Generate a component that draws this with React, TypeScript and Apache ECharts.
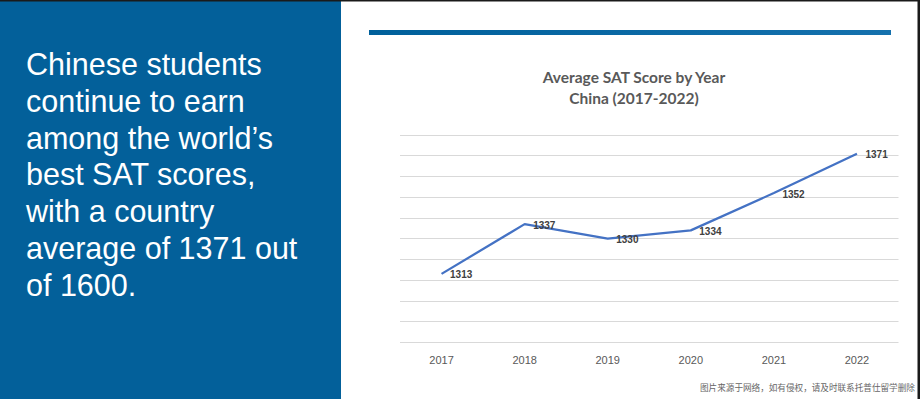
import React, { useEffect, useRef } from "react";
import * as echarts from "echarts";

const years = ["2017", "2018", "2019", "2020", "2021", "2022"];
const scores = [1313, 1337, 1330, 1334, 1352, 1371];
const titleLines = ["Average SAT Score by Year", "China (2017-2022)"];
const panelLines = [
  "Chinese students",
  "continue to earn",
  "among the world\u2019s",
  "best SAT scores,",
  "with a country",
  "average of 1371 out",
  "of 1600.",
];
const watermark = "图片来源于网络，如有侵权，请及时联系托普仕留学删除";

export default function App() {
  const ref = useRef<HTMLDivElement>(null);
  useEffect(() => {
    document.body.style.margin = "0";
    const chart = echarts.init(ref.current!, null, { renderer: "svg" });
    chart.setOption({
      animation: false,
      backgroundColor: "#ffffff",
      grid: { left: 400, right: 21.5, top: 135, bottom: 56.7 },
      xAxis: {
        type: "category",
        data: years,
        boundaryGap: true,
        axisLine: { show: false },
        axisTick: { show: false },
        axisLabel: {
          color: "#595959",
          fontSize: 11,
          fontFamily: "Liberation Sans",
          margin: 12,
        },
      },
      yAxis: {
        type: "value",
        min: 1280,
        max: 1380,
        interval: 10,
        axisLabel: { show: false },
        axisLine: { show: false },
        axisTick: { show: false },
        splitLine: { lineStyle: { color: "#d9d9d9", width: 1 } },
      },
      series: [
        {
          type: "line",
          data: scores,
          showSymbol: true,
          symbol: "circle",
          symbolSize: 1,
          itemStyle: { color: "rgba(68,114,196,0)" },
          lineStyle: { color: "#4472c4", width: 2.25 },
          label: {
            show: true,
            position: "right",
            distance: 8,
            offset: [0, 1],
            color: "#404040",
            fontSize: 10,
            fontWeight: "bold",
            fontFamily: "Liberation Sans",
          },
        },
      ],
      graphic: [
        {
          type: "rect",
          shape: { x: 0, y: 0, width: 341, height: 399 },
          style: { fill: "#03609a" },
        },
        {
          type: "rect",
          shape: { x: 0, y: 0, width: 920, height: 1.5 },
          style: { fill: "#1a1a1a" },
        },
        {
          type: "rect",
          shape: { x: 917.5, y: 0, width: 2.5, height: 399 },
          style: { fill: "#1a1a1a" },
        },
        {
          type: "rect",
          shape: { x: 369, y: 30, width: 522, height: 5 },
          style: {
            fill: new echarts.graphic.LinearGradient(0, 0, 1, 0, [
              { offset: 0, color: "#00609b" },
              { offset: 1, color: "#1571ad" },
            ]),
          },
        },
        {
          type: "text",
          x: 26,
          y: 45.5,
          style: {
            text: panelLines.join("\n"),
            fill: "#ffffff",
            font: '30.5px "Liberation Sans"',
            lineHeight: 36.8,
            verticalAlign: "top",
          },
        },
        {
          type: "text",
          x: 634,
          y: 77,
          style: {
            text: titleLines[0],
            fill: "#595959",
            font: 'bold 15.5px "Lato"',
            align: "center",
            verticalAlign: "middle",
          },
        },
        {
          type: "text",
          x: 634,
          y: 98,
          style: {
            text: titleLines[1],
            fill: "#595959",
            font: 'bold 15.5px "Lato"',
            align: "center",
            verticalAlign: "middle",
          },
        },
        {
          type: "text",
          x: 700,
          y: 387,
          style: {
            text: watermark,
            fill: "#666666",
            font: '8.6px "Noto Sans CJK SC"',
            verticalAlign: "middle",
          },
        },
      ],
    });
    return () => chart.dispose();
  }, []);
  return (
    <div
      ref={ref}
      style={{ position: "fixed", left: 0, top: 0, width: 920, height: 399 }}
    />
  );
}
